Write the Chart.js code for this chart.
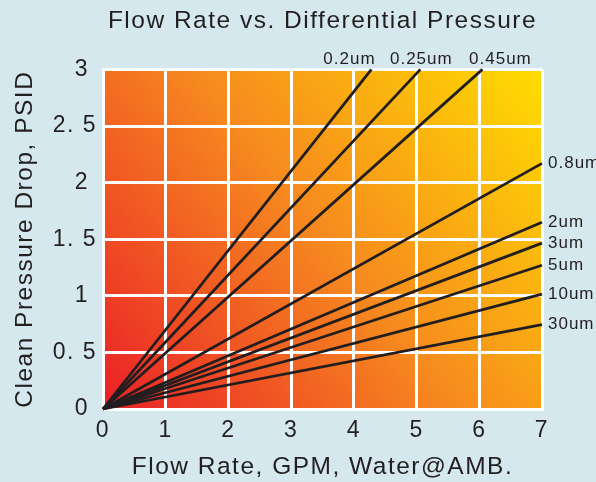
<!DOCTYPE html>
<html>
<head>
<meta charset="utf-8">
<script src="https://cdn.jsdelivr.net/npm/chart.js@4.4.1/dist/chart.umd.min.js"></script>
<style>
  html, body { margin: 0; padding: 0; background: #d4e8ee; }
  #wrap { width: 596px; height: 482px; }
</style>
</head>
<body>
<div id="wrap"><canvas id="chart" width="596" height="482"></canvas></div>
<script>
// Filter grades and where each straight line ends (flow GPM, drop PSID)
const filterGrades = ['0.2um', '0.25um', '0.45um', '0.8um', '2um', '3um', '5um', '10um', '30um'];
const endFlow = [4.28, 5.06, 6.05, 7, 7, 7, 7, 7, 7];
const endDrop = [3, 3, 3, 2.17, 1.65, 1.465, 1.27, 1.015, 0.745];

// Axis tick labels as printed on the original
const xTickLabels = ['0', '1', '2', '3', '4', '5', '6', '7'];
const yTickLabels = ['0', '0. 5', '1', '1. 5', '2', '2. 5', '3'];

const FONT = "'Liberation Sans', Arial, sans-serif";
const TEXT = '#231f20';

// canvas letter spacing, reset whenever the canvas is resized
const spacingPlugin = {
    id: 'spacing',
    beforeLayout(chart) { chart.ctx.letterSpacing = '1.5px'; },
    beforeDraw(chart) { chart.ctx.letterSpacing = '1.5px'; }
};

// page colour plus red-to-yellow gradient behind the grid
const backdropPlugin = {
    id: 'backdrop',
    beforeDraw(chart) {
        const { ctx, chartArea: a } = chart;
        ctx.save();
        ctx.fillStyle = '#d4e8ee';
        ctx.fillRect(0, 0, chart.width, chart.height);
        const g = ctx.createLinearGradient(a.left, a.bottom, a.right, a.top);
        g.addColorStop(0, '#ea2027');
        g.addColorStop(0.5, '#f6891f');
        g.addColorStop(1, '#ffdd00');
        ctx.fillStyle = g;
        ctx.fillRect(a.left, a.top, a.right - a.left, a.bottom - a.top);
        ctx.restore();
    }
};

// grade name at the end of each line
const endLabelPlugin = {
    id: 'endLabels',
    afterDatasetsDraw(chart, args, opts) {
        const { ctx, chartArea: a } = chart;
        ctx.save();
        ctx.font = `17px ${FONT}`;
        ctx.fillStyle = TEXT;
        ctx.letterSpacing = '1px';
        chart.data.datasets.forEach((ds, i) => {
            const pt = chart.getDatasetMeta(i).data[1];
            if (!pt) return;
            ctx.textBaseline = 'middle';
            if (pt.y <= a.top + 1) {
                ctx.textAlign = 'center';
                ctx.fillText(ds.label, pt.x + (opts.topShift[i] || 0), a.top - 10);
            } else {
                ctx.textAlign = 'left';
                ctx.fillText(ds.label, pt.x + 6, pt.y);
            }
        });
        ctx.restore();
    }
};

const datasets = filterGrades.map((name, i) => ({
    label: name,
    data: [{ x: 0, y: 0 }, { x: endFlow[i], y: endDrop[i] }],
    borderColor: '#221e1f',
    borderWidth: 2.8,
    pointRadius: 0,
    tension: 0,
    fill: false
}));

new Chart(document.getElementById('chart').getContext('2d'), {
    type: 'line',
    data: { datasets },
    plugins: [spacingPlugin, backdropPlugin, endLabelPlugin],
    options: {
        responsive: false,
        animation: false,
        clip: false,
        layout: { padding: { left: 0, right: 54, top: 0, bottom: 0 } },
        plugins: {
            legend: { display: false },
            tooltip: { enabled: false },
            title: {
                display: true,
                fullSize: false,
                text: 'Flow Rate vs. Differential Pressure',
                color: TEXT,
                font: { family: FONT, size: 24.5, weight: 'normal', lineHeight: 1.2 },
                padding: { top: 7, bottom: 33 }
            },
            endLabels: { topShift: [-22, 1, 18] }
        },
        scales: {
            x: {
                type: 'linear',
                min: 0,
                max: 7,
                afterFit(scale) { scale.height = 73; },
                ticks: {
                    stepSize: 1,
                    padding: 8,
                    color: TEXT,
                    font: { family: FONT, size: 23 },
                    callback: (v, idx) => xTickLabels[idx]
                },
                grid: { color: '#ffffff', lineWidth: 3, drawTicks: false },
                border: { color: '#ffffff', width: 3 },
                title: {
                    display: true,
                    text: 'Flow Rate, GPM, Water@AMB.',
                    color: TEXT,
                    font: { family: FONT, size: 24.5, lineHeight: 1.2 },
                    padding: { top: 0, bottom: 0 }
                }
            },
            y: {
                min: 0,
                max: 3,
                afterFit(scale) { scale.width = 103; },
                ticks: {
                    stepSize: 0.5,
                    padding: 6,
                    color: TEXT,
                    font: { family: FONT, size: 23 },
                    // whole numbers sit a little left of the decimals
                    callback: (v, idx) => yTickLabels[idx] + (Number.isInteger(v) ? ' ' : '')
                },
                grid: { color: '#ffffff', lineWidth: 3, drawTicks: false },
                border: { color: '#ffffff', width: 3 },
                title: {
                    display: true,
                    text: 'Clean Pressure Drop, PSID',
                    color: TEXT,
                    font: { family: FONT, size: 24.5, lineHeight: 1.2 },
                    padding: { top: 11, bottom: 0 }
                }
            }
        }
    }
});
</script>
</body>
</html>
